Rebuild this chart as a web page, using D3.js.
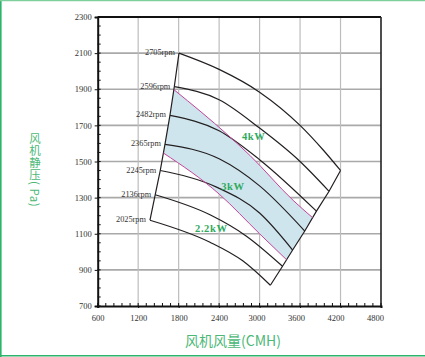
<!DOCTYPE html>
<html><head><meta charset="utf-8">
<script src="https://cdn.jsdelivr.net/npm/d3@7"></script>
<style>body{margin:0;background:#fff}svg{display:block}</style>
</head><body>
<svg id="c" width="425" height="357"></svg>
<script>
// ---- data ----
const xTicks = [600,1200,1800,2400,3000,3600,4200,4800];
const yTicks = [700,900,1100,1300,1500,1700,1900,2100,2300];
const rpmNames = ["2705rpm","2596rpm","2482rpm","2365rpm","2245rpm","2136rpm","2025rpm"];
const rpm2705 = [[1805,2100],[2400,2010],[3000,1884],[3600,1700],[3940,1565],[4200,1450]];
const rpm2596 = [[1736,1915],[2400,1842],[3000,1685],[3600,1500],[4030,1335]];
const rpm2482 = [[1671,1755],[2400,1670],[3000,1510],[3843,1225]];
const rpm2365 = [[1597,1595],[2400,1515],[3000,1365],[3670,1115]];
const rpm2245 = [[1527,1450],[2362,1358],[3000,1215],[3490,1010]];
const rpm2136 = [[1453,1316],[2265,1205],[2800,1088],[3340,920]];
const rpm2025 = [[1375,1175],[2265,1053],[2750,950],[3160,815]];
const power4kW = [[1729,1898],[2534,1645],[2856,1534],[3497,1285],[3786,1189]];
const power3kW = [[1574,1547],[2400,1320],[3000,1100],[3400,956]];
const powerNames = ["4kW","3kW","2.2kW"];
const powerLabelAt = [[2912,1637],[2604,1364],[2284,1128]];
const xTitle = "风机风量(CMH)";
const yTitle = "风机静压( Pa)";

const rpmCurves = [rpm2705,rpm2596,rpm2482,rpm2365,rpm2245,rpm2136,rpm2025];

// ---- drawing ----
const svg = d3.select("#c");
const x = d3.scaleLinear().domain([600,4800]).range([97.7,381]);
const y = d3.scaleLinear().domain([700,2300]).range([306,17]);
const titleGreen = "#4cb877", labelGreen = "#2faa5c";

// frame
svg.append("line").attr("x1",0.8).attr("x2",0.8).attr("y1",0).attr("y2",357).attr("stroke","#2db36b").attr("stroke-width",1.6);
svg.append("line").attr("x1",0).attr("x2",425).attr("y1",0.6).attr("y2",0.6).attr("stroke","#7fcf9c").attr("stroke-width",1.2);
svg.append("line").attr("x1",0).attr("x2",425).attr("y1",355.8).attr("y2",355.8).attr("stroke","#2db36b").attr("stroke-width",1.4);

// grid
svg.append("g").selectAll("line").data(yTicks.slice(1,-1)).join("line")
  .attr("x1",x(600)).attr("x2",x(4800)).attr("y1",d=>y(d)).attr("y2",d=>y(d))
  .attr("stroke","#a9a9a9").attr("stroke-width",1.6);
svg.append("g").selectAll("line").data(xTicks.slice(1,-1)).join("line")
  .attr("y1",y(700)).attr("y2",y(2300)).attr("x1",d=>x(d)).attr("x2",d=>x(d))
  .attr("stroke","#bdbdbd").attr("stroke-width",1.2);
svg.append("line").attr("x1",x(600)).attr("x2",x(4800)).attr("y1",y(2300)).attr("y2",y(2300)).attr("stroke","#111").attr("stroke-width",2);
svg.append("line").attr("x1",x(4800)).attr("x2",x(4800)).attr("y1",y(2300)).attr("y2",y(700)).attr("stroke","#222").attr("stroke-width",1.6);

// minor ticks
svg.append("g").selectAll("line").data(d3.range(700,2301,50)).join("line")
  .attr("x1",x(600)).attr("x2",x(600)+3).attr("y1",d=>y(d)).attr("y2",d=>y(d))
  .attr("stroke","#111").attr("stroke-width",1);
svg.append("g").selectAll("line").data(d3.range(600,4801,120)).join("line")
  .attr("x1",d=>x(d)).attr("x2",d=>x(d)).attr("y1",y(700)).attr("y2",y(700)-3)
  .attr("stroke","#111").attr("stroke-width",1);

// axes
const fmt = d3.format("d");
const ax = svg.append("g").attr("transform",`translate(${x(600)},0)`)
  .call(d3.axisLeft(y).tickValues(yTicks).tickSize(3).tickPadding(3).tickFormat(fmt));
const bx = svg.append("g").attr("transform",`translate(0,${y(700)})`)
  .call(d3.axisBottom(x).tickValues(xTicks).tickSize(2).tickPadding(7).tickFormat(fmt));
[ax,bx].forEach(g=>{
  g.select(".domain").attr("stroke","#111").attr("stroke-width",2);
  g.selectAll(".tick line").attr("stroke","#111");
  g.selectAll("text").attr("font-family","'Liberation Serif',serif").attr("font-size",8.5).attr("fill","#333");
});
bx.selectAll(".tick text").attr("dx",(d)=>d>=3000?-3-(d-3000)/600:0);

// blue band between power curves
const line = d3.line().x(d=>x(d[0])).y(d=>y(d[1])).curve(d3.curveMonotoneX);
function sample(data){
  const p = svg.append("path").attr("d",line(data)).attr("fill","none").attr("stroke","none");
  const node = p.node(), L = node.getTotalLength(), pts=[];
  for(let i=0;i<=80;i++){const q=node.getPointAtLength(L*i/80); pts.push([q.x,q.y]);}
  p.remove(); return pts;
}
const starts = rpmCurves.map(c=>c[0]);
const ends = rpmCurves.map(c=>c[c.length-1]);
const up = sample(power4kW), lo = sample(power3kW);
const hiY = power4kW[power4kW.length-1][1], loY = power3kW[power3kW.length-1][1];
const rightPart = ends.filter(e=>e[1]<hiY && e[1]>loY).map(e=>[x(e[0]),y(e[1])]);
const hiYs = power4kW[0][1], loYs = power3kW[0][1];
const leftPart = starts.filter(e=>e[1]<hiYs && e[1]>loYs).sort((a,b)=>a[1]-b[1]).map(e=>[x(e[0]),y(e[1])]);
const poly = [...up, ...rightPart, ...lo.slice().reverse(), ...leftPart];
svg.append("path").attr("d", d3.line()(poly)+"Z").attr("fill","#cfe5ee").attr("stroke","none");

// boundaries
const straight = d3.line().x(d=>x(d[0])).y(d=>y(d[1]));
svg.append("path").attr("d",straight(starts)).attr("fill","none").attr("stroke","#231f20").attr("stroke-width",1.2);
svg.append("path").attr("d",straight(ends)).attr("fill","none").attr("stroke","#231f20").attr("stroke-width",1.2);

// rpm curves
svg.append("g").selectAll("path").data(rpmCurves).join("path")
  .attr("d",line).attr("fill","none").attr("stroke","#231f20").attr("stroke-width",1.2);

// power curves
svg.append("g").selectAll("path").data([power4kW,power3kW]).join("path")
  .attr("d",line).attr("fill","none").attr("stroke","#c4449a").attr("stroke-width",1);

// rpm labels
svg.append("g").selectAll("text").data(rpmCurves).join("text")
  .attr("x",d=>x(d[0][0])-4).attr("y",d=>y(d[0][1])+2)
  .attr("text-anchor","end").attr("font-family","'Liberation Serif',serif").attr("font-size",8.3)
  .attr("fill","#333").text((d,i)=>rpmNames[i]);

// power labels
svg.append("g").selectAll("text").data(powerLabelAt).join("text")
  .attr("x",d=>x(d[0])).attr("y",d=>y(d[1])).attr("dy","0.35em")
  .attr("text-anchor","middle").attr("font-family","'Liberation Serif',serif").attr("font-size",10.5)
  .attr("font-weight","bold").attr("letter-spacing",0.6)
  .attr("fill",labelGreen).text((d,i)=>powerNames[i]);

// titles
svg.append("text").attr("x",233).attr("y",346).attr("text-anchor","middle")
  .attr("font-family","'Noto Sans CJK SC','Noto Sans',sans-serif").attr("font-size",14)
  .attr("fill",titleGreen).text(xTitle);
svg.append("text").attr("x",35).attr("y",133)
  .style("writing-mode","vertical-rl").style("text-orientation","mixed")
  .attr("font-family","'Noto Sans CJK SC',sans-serif").attr("font-size",11.5)
  .attr("letter-spacing",0.5)
  .attr("fill",titleGreen).text(yTitle);
</script>
</body></html>
